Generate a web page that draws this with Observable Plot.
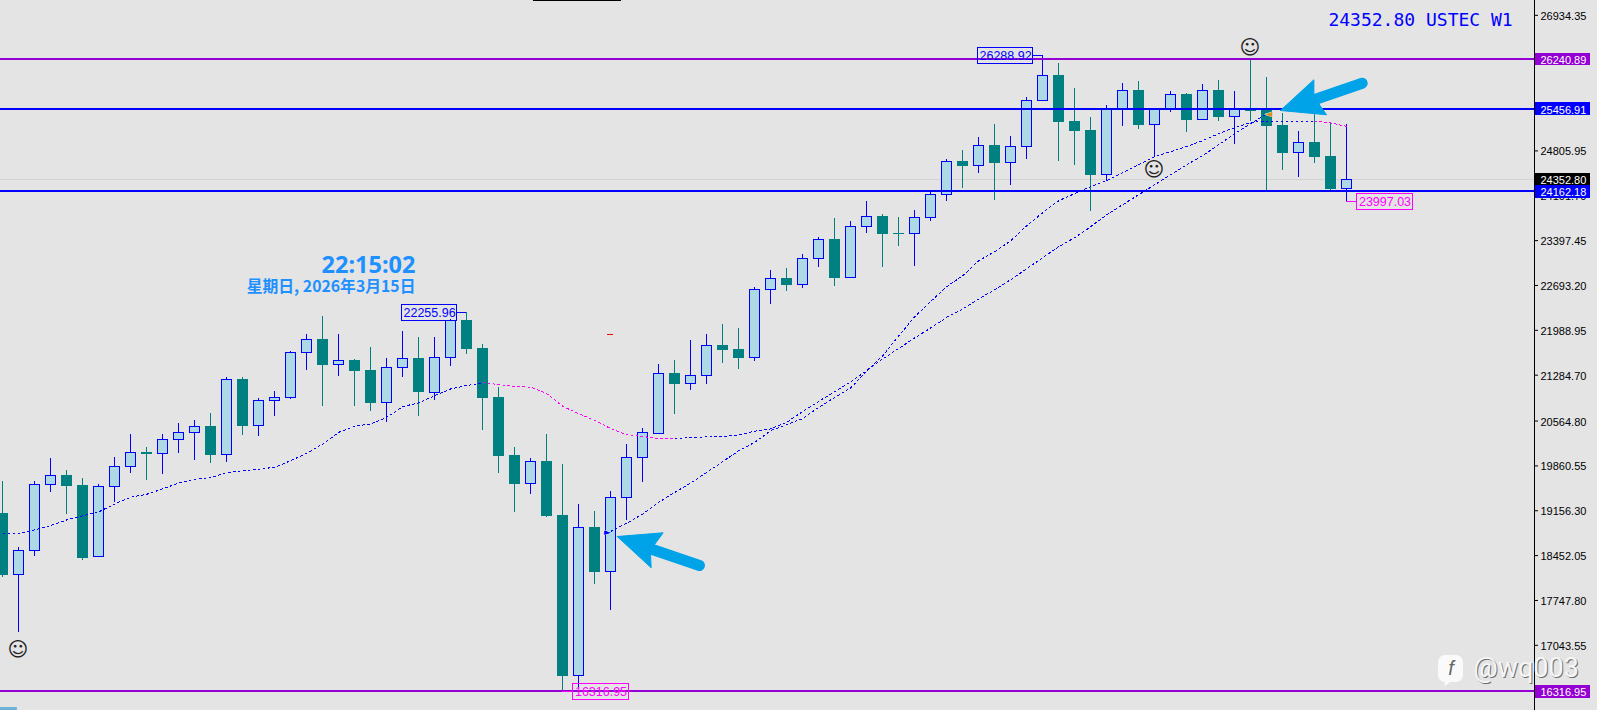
<!DOCTYPE html>
<html><head><meta charset="utf-8">
<script src="https://cdn.jsdelivr.net/npm/d3@7"></script>
<script src="https://cdn.jsdelivr.net/npm/@observablehq/plot@0.6"></script>
<style>html,body{margin:0;padding:0;background:#e4e4e4;overflow:hidden}svg{display:block;background:#e4e4e4}</style>
</head><body><div id="chart"></div>
<script>
const open=[19108,18144,18527,19564,19705,19553,18427,19532,19846,20071,
20044,20270,20380,20479,20035,21217,20484,20882,20930,21636,
21845,21441,21515,21358,20845,21401,21547,21008,21558,22143,
21704,20934,20024,19579,19930,19082,16565,18893,18198,19360,
19988,20364,21311,21149,21275,21751,21688,21558,22625,22803,
22704,23112,23415,22814,23614,23776,23509,23504,23756,24117,
24639,24572,24891,24619,24870,25593,25990,25268,25126,24431,
25456,25754,25216,25456,25691,25294,25754,25335,25451,25451,
25205,24776,24938,24718,24205];
const close=[18140,18527,19564,19705,19542,18411,19532,19846,20066,20044,
20270,20380,20474,20028,21212,20484,20882,20930,21636,21840,
21441,21510,21347,20845,21401,21542,21017,21558,22138,21688,
20923,20013,19573,19925,19071,16559,18889,18192,19360,19988,
20380,21306,21143,21275,21746,21677,21551,22625,22798,22693,
23112,23410,22803,23614,23771,23498,23498,23756,24117,24635,
24566,24886,24613,24870,25593,25985,25257,25115,24424,25456,
25750,25209,25456,25687,25288,25750,25330,25456,25429,25189,
24765,24933,24702,24200,24352.80];
const high=[19604,18579,19604,19961,19788,19647,19568,19977,20338,20145,
20338,20521,20573,20683,21233,21244,20903,21028,21656,21923,
22206,21908,21526,21719,21531,21970,21861,21876,22154,22255.96,
21766,21091,20134,19961,20353,19882,19239,19129,19443,20181,
20432,21452,21500,21829,21923,22080,22002,22657,22913,22944,
23164,23431,23729,23682,23996,23807,23760,23870,24158,24666,
24812,25016,25220,25032,25640,26288.92,26178,25770,25315,25514,
25864,25880,25456,25738,25707,25833,25911,25723,26236,25943,
25393,25095,25393,25241,25216];
const low=[18097,17234,18427,19432,19082,18364,18411,19275,19730,19620,
19714,20044,19934,19887,19903,20327,20311,20625,20892,21347,
20782,21264,20793,20703,20531,21237,20636,20876,21421,21598,
20405,19730,19118,19400,19035,16316.95,16361,17987,17579,18992,
19589,20353,20667,21033,21127,21457,21363,21488,22383,22583,
22635,22964,22666,22807,23498,22964,23305,22980,23697,24000,
24200,24440,24016,24252,24660,25590,24629,24566,23844,24315,
25178,25131,24687,25398,25084,25278,25257,24891,25257,24184,
24498,24377,24608,24184,23997.03];
const ma1=[18794,18794,18857,18925,19014,19077,19140,19265,19369,19416,
19501,19595,19652,19674,19757,19784,19809,19840,19945,20060,
20207,20390,20484,20521,20625,20793,20851,20966,21071,21123,
21165,21138,21107,21096,20992,20793,20678,20573,20443,20349,
20322,20286,20286,20306,20317,20322,20349,20405,20443,20547,
20719,20876,21028,21185,21358,21594,21908,22206,22446,22677,
22850,23085,23226,23399,23635,23839,24027,24137,24247,24341,
24467,24592,24718,24796,24875,24969,25079,25173,25252,25275,
25275,25275,25275,25244,25189];
const ma2Start=38;
const ma2=[18835,18961,19108,19290,19447,19595,19761,19930,20102,20232,
20416,20510,20605,20782,20939,21087,21358,21542,21708,21872,
22029,22195,22327,22484,22630,22787,22960,23132,23305,23446,
23619,23807,23964,24121,24278,24435,24592,24734,24906,25079,
25236,25393];
const axisTicks=[26934.35,26230.10,25525.85,24805.95,24101.70,23397.45,22693.20,21988.95,21284.70,20564.80,19860.55,19156.30,18452.05,17747.80,17043.55];
const levels=[{p:26240.89,c:"#9400d3"},{p:25456.91,c:"#0000ff"},{p:24162.18,c:"#0000ff"},{p:16316.95,c:"#9400d3"}];
const lastPrice=24352.80;
const priceTags=[{p:26240.89,c:"#9400d3"},{p:25456.91,c:"#0000ff"},{p:24352.80,c:"#000000"},{p:24162.18,c:"#0000ff"},{p:16316.95,c:"#9400d3"}];
const boxLabels=[
 {t:"22255.96",i:26.66,bar:29,p:22255.96,c:"#0000ff"},
 {t:"26288.92",i:62.66,bar:65,p:26288.92,c:"#0000ff"},
 {t:"16316.95",i:37.375,bar:35,p:16316.95,c:"#ff00ff"},
 {t:"23997.03",i:86.375,bar:84,p:23997.03,c:"#ff00ff"}];
const smileys=[{i:0.94,p:16970},{i:71.94,p:24506},{i:77.94,p:26426}];
const arrowHeadA=[[38.39,18752],[41.26,18810],[40.72,18626],[40.47,18469],[40.51,18261],[38.39,18752]];
const arrowShaftA=[[40.59,18548],[43.53,18297]];
const arrowHeadB=[[79.84,25440],[81.93,25922],[81.93,25691],[82.24,25545],[82.72,25373],[79.84,25440]];
const arrowShaftB=[[82.09,25621],[84.95,25869]];
const iconTail=[[90.1,16500],[90.1,16400],[90.6,16500]];

const candles=open.map((o,i)=>({i,o,c:close[i],h:high[i],l:low[i],up:close[i]>=o}));
const ups=candles.filter(d=>d.up), downs=candles.filter(d=>!d.up);
const m1=ma1.map((v,i)=>({i,v}));
const m2=ma2.map((v,k)=>({i:k+ma2Start,v}));
const BLUE="#0000ff",TEAL="#008080",MAG="#ff00ff",LB="#add8e6",ARW="#00a2e8";
const PXW=16, xMin=-2.5/PXW, xMax=(1534-2.5)/PXW;
const sans="Liberation Sans, Arial, sans-serif";
const crisp={shapeRendering:"crispEdges",dx:-0.5,dy:-0.5};
const solid={shapeRendering:"crispEdges"};
const maLine=(data,color)=>Plot.line(data,{x:"i",y:"v",stroke:color,strokeWidth:1,strokeDasharray:"2,3",shapeRendering:"crispEdges"});
const poly=pts=>Plot.line(pts,{x:d=>d[0],y:d=>d[1],fill:ARW,stroke:ARW,strokeWidth:1});
const shaft=pts=>Plot.line(pts,{x:d=>d[0],y:d=>d[1],stroke:ARW,strokeWidth:11,strokeLinecap:"round"});

const plot=Plot.plot({
 width:1597,height:710,marginLeft:0,marginTop:0,marginBottom:0,marginRight:63,
 style:{background:"#e4e4e4",overflow:"visible"},
 x:{domain:[xMin,xMax],range:[0,1534],axis:null},
 y:{domain:[16020.2,27167.2],range:[710,0],axis:null},
 marks:[
  Plot.axisY(axisTicks,{anchor:"right",tickSize:3,tickFormat:()=>"",label:null,stroke:"#000"}),
  Plot.axisY(axisTicks,{anchor:"right",tickSize:0,tickPadding:6,dy:1,tickFormat:d=>d.toFixed(2),fontSize:11,fontFamily:sans,fill:"#000",label:null}),
  Plot.ruleX([xMax],{stroke:"#000",strokeWidth:1,shapeRendering:"crispEdges"}),
  Plot.ruleY([lastPrice],{stroke:"#d3d3d3",strokeWidth:1,...crisp}),
  Plot.ruleX(ups,{x:"i",y1:"l",y2:"h",stroke:BLUE,strokeWidth:1,...crisp}),
  Plot.ruleX(downs,{x:"i",y1:"l",y2:"h",stroke:TEAL,strokeWidth:1,...crisp}),
  Plot.rect(ups,{x1:d=>d.i-0.3125,x2:d=>d.i+0.3125,y1:"o",y2:"c",fill:LB,stroke:BLUE,strokeWidth:1,...solid}),
  Plot.rect(downs,{x1:d=>d.i-0.344,x2:d=>d.i+0.344,y1:"o",y2:"c",fill:TEAL,...solid}),
  maLine(m1.slice(0,31),BLUE),maLine(m1.slice(30,43),MAG),maLine(m1.slice(42,83),BLUE),maLine(m1.slice(82),MAG),
  maLine(m2,BLUE),
  Plot.ruleY(levels,{y:"p",stroke:"c",strokeWidth:2,...crisp}),
  Plot.ruleY(boxLabels,{y:"p",x1:"bar",x2:d=>d.i+(d.bar>d.i?1.73:-1.73),stroke:"c",strokeWidth:1,...crisp}),
  Plot.rect(boxLabels,{x1:d=>d.i-1.73,x2:d=>d.i+1.73,y1:d=>d.p-125,y2:d=>d.p+125,fill:"none",stroke:"c",strokeWidth:1,...solid}),
  Plot.text(boxLabels,{x:"i",y:"p",text:"t",fill:"c",fontSize:12.5,fontFamily:sans}),
  Plot.text(smileys,{x:"i",y:"p",text:()=>"☺",fill:"#222",fontSize:20,fontFamily:"DejaVu Sans"}),
  Plot.rect(priceTags,{x1:()=>95.8,x2:()=>99.2,y1:d=>d.p-102,y2:d=>d.p+102,fill:"c",...solid}),
  Plot.text(priceTags,{x:()=>96.09,y:"p",dy:1,text:d=>d.p.toFixed(2),fill:"#fff",textAnchor:"start",fontSize:11,fontFamily:sans}),
  Plot.ruleY([21919],{x1:37.8,x2:38.2,stroke:"#ff0000",strokeWidth:1,...crisp}),
  Plot.ruleY([27165],{x1:33.16,x2:38.66,stroke:"#000",strokeWidth:1,...crisp}),
  Plot.text([{i:37.78,p:18815}],{x:"i",y:"p",text:()=>"►",fill:BLUE,stroke:"#fff",strokeWidth:0.6,paintOrder:"stroke",fontSize:9,fontFamily:"DejaVu Sans"}),
  poly(arrowHeadA),shaft(arrowShaftA),
  shaft(arrowShaftB),poly(arrowHeadB),
  Plot.text([{i:79.1,p:25388}],{x:"i",y:"p",text:()=>"◄",fill:"#d98f1c",stroke:"#fff",strokeWidth:0.8,paintOrder:"stroke",fontSize:10,fontFamily:"DejaVu Sans"}),
  Plot.text([{i:82.84,p:26853}],{x:"i",y:"p",text:()=>"24352.80 USTEC W1",fill:BLUE,textAnchor:"start",fontSize:18,fontFamily:"DejaVu Sans Mono"}),
  Plot.text([{i:25.78,p:23006}],{x:"i",y:"p",text:()=>"22:15:02",fill:"#1e90ff",textAnchor:"end",fontSize:23.5,fontWeight:"bold",fontFamily:"Noto Sans"}),
  Plot.text([{i:25.78,p:22677}],{x:"i",y:"p",text:()=>"星期日, 2026年3月15日",fill:"#1e90ff",textAnchor:"end",fontSize:15.8,fontWeight:"bold",fontFamily:"Noto Sans CJK SC"}),
  Plot.rect([{x1:-0.156,x2:0.9,y1:16020.2,y2:16067}],{x1:"x1",x2:"x2",y1:"y1",y2:"y2",fill:"#6db3d8"}),
  Plot.rect([{x1:89.72,x2:91.28,y1:16460,y2:16884}],{x1:"x1",x2:"x2",y1:"y1",y2:"y2",fill:"#fafafa",rx:7}),
  Plot.line(iconTail,{x:d=>d[0],y:d=>d[1],fill:"#fafafa",stroke:"none"}),
  Plot.text([{i:90.5,p:16680}],{x:"i",y:"p",text:()=>"f",fill:"#666",fontSize:20,fontStyle:"italic",fontFamily:sans}),
  Plot.text([{i:91.9,p:16679}],{x:"i",y:"p",dx:1,dy:1,text:()=>"@wq003",fill:"#6e6e6e",textAnchor:"start",fontSize:27,fontFamily:"Roboto"}),
  Plot.text([{i:91.9,p:16679}],{x:"i",y:"p",text:()=>"@wq003",fill:"#f6f6f6",textAnchor:"start",fontSize:27,fontFamily:"Roboto"})
 ]
});
document.getElementById("chart").appendChild(plot);
</script></body></html>
